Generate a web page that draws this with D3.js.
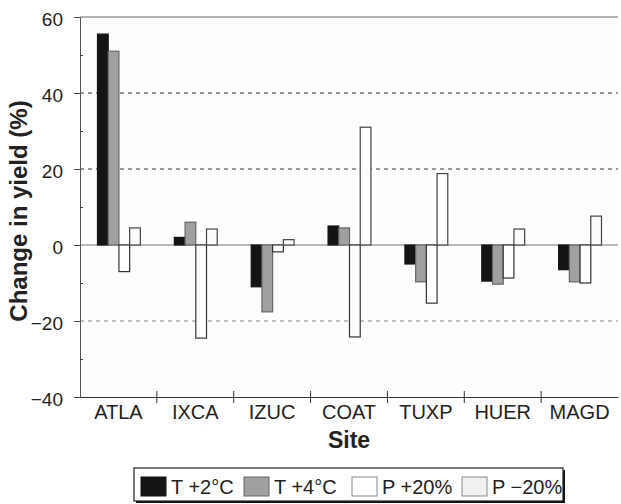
<!DOCTYPE html>
<html>
<head>
<meta charset="utf-8">
<script src="https://cdn.jsdelivr.net/npm/d3@7"></script>
<style>
  body { margin: 0; background: #fff; }
  svg { font-family: "Liberation Sans", Arial, sans-serif; }
</style>
</head>
<body>
<svg id="chart" width="621" height="504"></svg>
<script>
let sites = ["ATLA", "IXCA", "IZUC", "COAT", "TUXP", "HUER", "MAGD"];
let seriesNames = ["T +2°C", "T +4°C", "P +20%", "P \u221220%"];
let t2 = [55.5, 2, -11, 5, -5, -9.5, -6.5];
let t4 = [51, 6, -17.6, 4.5, -9.7, -10.3, -9.7];
let pPlus = [-7, -24.5, -1.8, -24.2, -15.3, -8.7, -10];
let pMinus = [4.5, 4.2, 1.4, 31, 18.8, 4.2, 7.6];
let yTicks = [-40, -20, 0, 20, 40, 60];
let gridVals = [40, 20, -20];

let fills = ["#141414", "#a0a0a0", "#ffffff", "#fcfcfc"];
let strokes = ["#141414", "#666", "#333", "#444"];

let svg = d3.select("#chart");
let margin = {top: 17, left: 80, right: 3, bottom: 107};
let width = 621 - margin.left - margin.right;
let height = 504 - margin.top - margin.bottom;

let g = svg.append("g").attr("transform", "translate(" + margin.left + "," + margin.top + ")");

let x = d3.scaleBand().domain(sites).range([0, width]).paddingInner(0).paddingOuter(0);
let xInner = d3.scaleBand().domain(d3.range(4)).range([17, x.bandwidth() - 17]);
let y = d3.scaleLinear().domain([-40, 60]).range([height, 0]);

// plot background
g.append("rect").attr("width", width).attr("height", height).attr("fill", "#fdfdfd");

// dashed grid
g.selectAll(".grid").data(gridVals).enter().append("line")
  .attr("x1", 0).attr("x2", width)
  .attr("y1", d => y(d)).attr("y2", d => y(d))
  .attr("stroke", d => d < 0 ? "#888" : "#333")
  .attr("stroke-width", 1.2)
  .attr("stroke-dasharray", "4,4");

// top frame and zero line
g.append("line").attr("x1", 0).attr("x2", width).attr("y1", y(60)).attr("y2", y(60))
  .attr("stroke", "#666").attr("stroke-width", 1.2);
g.append("line").attr("x1", 0).attr("x2", width).attr("y1", y(0)).attr("y2", y(0))
  .attr("stroke", "#777").attr("stroke-width", 1.2);

// bars
let rows = sites.map((s, i) => ({site: s, vals: [t2[i], t4[i], pPlus[i], pMinus[i]]}));
let groups = g.selectAll(".site").data(rows).enter().append("g")
  .attr("transform", d => "translate(" + x(d.site) + ",0)");

groups.selectAll("rect").data(d => d.vals.map((v, k) => ({v: v, k: k}))).enter().append("rect")
  .attr("x", d => xInner(d.k) + 0.5)
  .attr("width", xInner.bandwidth())
  .attr("y", d => y(Math.max(0, d.v)))
  .attr("height", d => Math.abs(y(d.v) - y(0)))
  .attr("fill", d => fills[d.k])
  .attr("stroke", d => strokes[d.k])
  .attr("stroke-width", 1.2);

// y axis
let yAxis = d3.axisLeft(y).tickValues(yTicks).tickSize(6).tickPadding(11)
  .tickFormat(d => d < 0 ? "\u2212" + Math.abs(d) : d);
let ya = g.append("g").call(yAxis);
ya.select(".domain").attr("stroke", "#555");
ya.selectAll(".tick line").attr("stroke", "#444");
ya.selectAll("text").attr("font-size", 19).attr("fill", "#222").attr("dy", "0.45em");
let yMinor = d3.axisLeft(y).tickValues([-30, -10, 10, 30, 50]).tickSize(-3).tickFormat("");
let ym = g.append("g").call(yMinor);
ym.select(".domain").remove();
ym.selectAll(".tick line").attr("stroke", "#444");

// x axis
let xa = g.append("g").attr("transform", "translate(0," + height + ")")
  .call(d3.axisBottom(x).tickSize(0).tickPadding(8));
xa.select(".domain").attr("stroke", "#333").attr("stroke-width", 1.2);
xa.selectAll("text").attr("font-size", 20).attr("fill", "#222");
let bounds = sites.slice(1).map(s => x(s));
xa.selectAll(".sep").data(bounds).enter().append("line")
  .attr("x1", d => d).attr("x2", d => d).attr("y1", -6).attr("y2", 6)
  .attr("stroke", "#333").attr("stroke-width", 1);

// axis titles
svg.append("text").attr("x", margin.left + width / 2).attr("y", 448)
  .attr("text-anchor", "middle").attr("font-size", 23).attr("font-weight", "bold")
  .attr("fill", "#222").text("Site");
svg.append("text").attr("transform", "translate(27,211) rotate(-90)")
  .attr("text-anchor", "middle").attr("font-size", 24).attr("font-weight", "bold")
  .attr("fill", "#222").text("Change in yield (%)");

// legend
let lg = svg.append("g").attr("transform", "translate(134,468)");
lg.append("rect").attr("x", 2).attr("y", 2).attr("width", 429).attr("height", 33).attr("fill", "#111");
lg.append("rect").attr("width", 429).attr("height", 33).attr("fill", "#fff")
  .attr("stroke", "#222").attr("stroke-width", 1.2);
let offsets = [7, 110, 218, 328];
let items = lg.selectAll(".item").data(seriesNames).enter().append("g")
  .attr("transform", (d, i) => "translate(" + offsets[i] + ",9)");
items.append("rect").attr("width", 25).attr("height", 19)
  .attr("fill", (d, i) => i === 3 ? "#f0f0f0" : fills[i])
  .attr("stroke", (d, i) => i < 2 ? strokes[i] : "#888");
items.append("text").attr("x", 30).attr("y", 17).attr("font-size", 20).attr("fill", "#222")
  .text(d => d);
</script>
</body>
</html>
